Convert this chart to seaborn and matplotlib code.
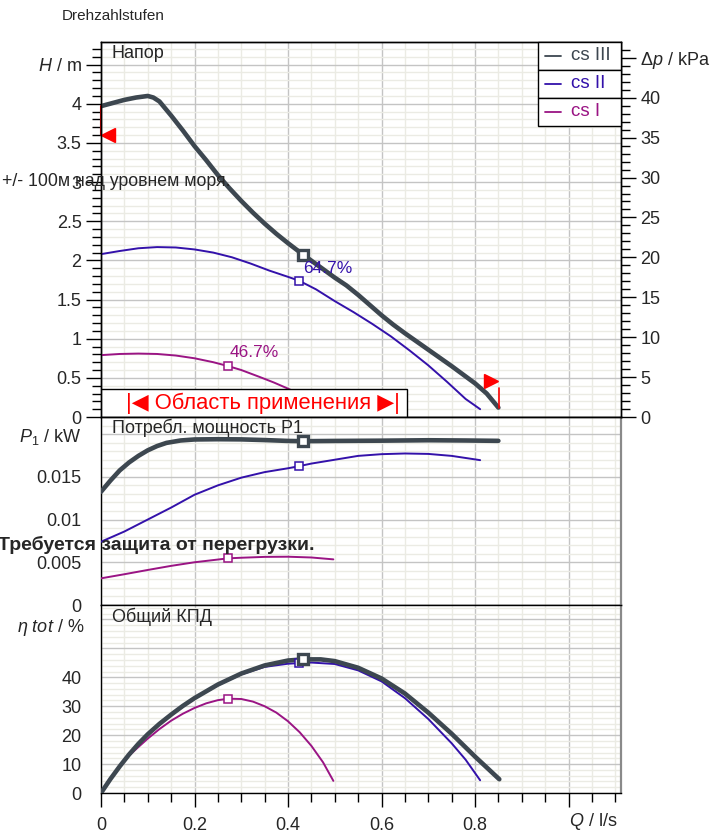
import numpy as np
import pandas as pd
import matplotlib
matplotlib.use("Agg")
import matplotlib.pyplot as plt
import seaborn as sns
from matplotlib.ticker import MultipleLocator, FixedLocator
from matplotlib.patches import Rectangle
from matplotlib.lines import Line2D

# speed stages
stages = ["cs III", "cs II", "cs I"]
stage_colors = ["#3d4750", "#3311aa", "#9a1484"]
stage_widths = [3.3, 1.4, 1.4]

# head H / m over flow Q / l/s
q_head_3 = [0, 0.025, 0.05, 0.075, 0.1, 0.112, 0.125, 0.15, 0.175, 0.2, 0.225, 0.25, 0.275, 0.3,
            0.325, 0.35, 0.375, 0.4, 0.433, 0.47, 0.5, 0.525, 0.55, 0.575, 0.6, 0.625, 0.65, 0.7,
            0.75, 0.8, 0.825, 0.85]
head_3 = [3.97, 4.01, 4.05, 4.08, 4.10, 4.08, 4.03, 3.85, 3.66, 3.46, 3.28, 3.09, 2.92, 2.76,
          2.61, 2.47, 2.34, 2.22, 2.07, 1.91, 1.78, 1.68, 1.56, 1.43, 1.30, 1.18, 1.07, 0.86,
          0.65, 0.43, 0.30, 0.12]
q_head_2 = [0, 0.04, 0.08, 0.12, 0.16, 0.2, 0.24, 0.28, 0.32, 0.36, 0.4, 0.424, 0.46, 0.5, 0.54,
            0.58, 0.62, 0.66, 0.7, 0.74, 0.78, 0.811]
head_2 = [2.08, 2.12, 2.155, 2.17, 2.165, 2.14, 2.10, 2.04, 1.96, 1.87, 1.79, 1.74, 1.63, 1.48, 1.34,
          1.19, 1.03, 0.85, 0.66, 0.45, 0.23, 0.10]
q_head_1 = [0, 0.04, 0.08, 0.12, 0.16, 0.2, 0.24, 0.272, 0.3, 0.34, 0.37, 0.397, 0.43, 0.46, 0.497]
head_1 = [0.79, 0.805, 0.81, 0.805, 0.785, 0.75, 0.70, 0.65, 0.60, 0.51, 0.44, 0.37, 0.28, 0.19, 0.06]

# power P1 / kW
q_pow_3 = [0, 0.02, 0.04, 0.06, 0.08, 0.1, 0.12, 0.14, 0.17, 0.2, 0.25, 0.3, 0.35, 0.4, 0.433,
           0.5, 0.6, 0.7, 0.78, 0.85]
pow_3 = [0.01325, 0.01455, 0.01575, 0.01668, 0.01745, 0.0181, 0.0186, 0.01897, 0.01925, 0.01937,
         0.0194, 0.01938, 0.0193, 0.0192, 0.01917, 0.0192, 0.01923, 0.01928, 0.01925, 0.01921]
q_pow_2 = [0, 0.05, 0.1, 0.15, 0.2, 0.25, 0.3, 0.35, 0.4, 0.424, 0.45, 0.5, 0.55, 0.6, 0.65, 0.7,
           0.75, 0.811]
pow_2 = [0.0074, 0.0086, 0.0100, 0.0114, 0.0129, 0.0140, 0.0149, 0.01555, 0.0160, 0.01625,
         0.01655, 0.0170, 0.01745, 0.01765, 0.01773, 0.01768, 0.01745, 0.01695]
q_pow_1 = [0, 0.05, 0.1, 0.15, 0.2, 0.25, 0.272, 0.3, 0.35, 0.4, 0.45, 0.497]
pow_1 = [0.00312, 0.0036, 0.0041, 0.00458, 0.0050, 0.00532, 0.00546, 0.00553, 0.00563, 0.00565,
         0.00556, 0.00534]

# total efficiency / %
q_eff_3 = [0, 0.02, 0.04, 0.06, 0.08, 0.1, 0.125, 0.15, 0.175, 0.2, 0.25, 0.3, 0.35, 0.4, 0.433,
           0.47, 0.5, 0.55, 0.6, 0.65, 0.7, 0.75, 0.8, 0.852]
eff_3 = [0, 4.8, 9.2, 13.3, 17.0, 20.3, 23.9, 27.1, 30.1, 32.8, 37.5, 41.3, 44.1, 45.8, 46.2,
         46.2, 45.6, 43.3, 39.6, 34.4, 27.8, 20.5, 12.6, 4.75]
q_eff_2 = [0, 0.02, 0.04, 0.06, 0.08, 0.1, 0.125, 0.15, 0.175, 0.2, 0.25, 0.3, 0.35, 0.4, 0.424,
           0.45, 0.5, 0.55, 0.6, 0.65, 0.7, 0.75, 0.78, 0.811]
eff_2 = [0, 4.7, 9.0, 13.1, 16.8, 20.1, 23.7, 26.9, 29.9, 32.6, 37.3, 41.0, 43.6, 44.7, 44.9,
         45.1, 44.6, 42.4, 38.6, 32.8, 25.6, 17.2, 11.5, 4.4]
q_eff_1 = [0, 0.02, 0.04, 0.06, 0.08, 0.1, 0.125, 0.15, 0.175, 0.2, 0.225, 0.25, 0.272, 0.3, 0.325,
           0.35, 0.375, 0.4, 0.425, 0.45, 0.475, 0.497]
eff_1 = [0, 4.7, 9.0, 12.9, 15.9, 18.8, 22.1, 25.0, 27.4, 29.4, 31.0, 32.1, 32.6, 32.5, 31.6,
         30.0, 27.8, 24.8, 21.0, 16.3, 10.6, 4.2]

# duty points (Q, H, P1, eta)
duty_q = [0.433, 0.424, 0.272]
duty_head = [2.07, 1.74, 0.65]
duty_pow = [0.01917, 0.01625, 0.00546]
duty_eff = [46.2, 44.9, 32.6]
duty_text = ["", "64.7%", "46.7%"]

head_curves = [(q_head_3, head_3), (q_head_2, head_2), (q_head_1, head_1)]
pow_curves = [(q_pow_3, pow_3), (q_pow_2, pow_2), (q_pow_1, pow_1)]
eff_curves = [(q_eff_3, eff_3), (q_eff_2, eff_2), (q_eff_1, eff_1)]

sns.set_style("white")
plt.rcParams['font.family'] = ['Liberation Sans', 'DejaVu Sans']
plt.rcParams['mathtext.fontset'] = 'custom'
plt.rcParams['mathtext.rm'] = 'Liberation Sans'
plt.rcParams['mathtext.it'] = 'Liberation Sans:italic'

W, H = 725, 832
XMAX = 520 / 467.5
fig = plt.figure(figsize=(W / 100, H / 100), dpi=100)

ax_h = fig.add_axes([101 / W, 1 - 417 / H, 520 / W, 375 / H])
ax_p = fig.add_axes([101 / W, 1 - 605 / H, 520 / W, 188 / H])
ax_e = fig.add_axes([101 / W, 1 - 793 / H, 520 / W, 188 / H])


def style_axis(ax, ymajor, ylabels, yminor, ymax):
    ax.set_xlim(0, XMAX)
    ax.set_ylim(0, ymax)
    ax.xaxis.set_major_locator(FixedLocator([0, 0.2, 0.4, 0.6, 0.8, 1.0]))
    ax.xaxis.set_minor_locator(MultipleLocator(0.05))
    ax.yaxis.set_major_locator(FixedLocator(ymajor))
    ax.set_yticklabels(ylabels)
    ax.yaxis.set_minor_locator(MultipleLocator(yminor))
    ax.grid(which='major', color='#c4c4c4', lw=1.0)
    ax.grid(which='minor', color='#ebebe4', lw=1.0)
    ax.set_axisbelow(True)
    ax.tick_params(axis='y', which='major', direction='out', length=11, width=1,
                   pad=3, labelsize=13, color='black')
    ax.tick_params(axis='y', which='minor', direction='out', length=6.5, width=1, color='black')
    ax.tick_params(axis='x', which='both', bottom=False, labelbottom=False)
    for s in ax.spines.values():
        s.set_color('black')
        s.set_linewidth(1)


style_axis(ax_h, [0, 0.5, 1, 1.5, 2, 2.5, 3, 3.5, 4, 4.5],
           ["0", "0.5", "1", "1.5", "2", "2.5", "3", "3.5", "4", r"$H$ / m"], 0.1, 375 / 78.3)
style_axis(ax_p, [0, 0.005, 0.01, 0.015, 0.02],
           ["0", "0.005", "0.01", "0.015", r"$P_{1}$ / kW"], 0.001, 0.022)
style_axis(ax_e, [0, 10, 20, 30, 40, 50, 60],
           ["0", "10", "20", "30", "40", "", ""], 2, 65)

for ax in (ax_p, ax_e):
    ax.spines['right'].set_color('#8a8a8a')
    ax.spines['right'].set_linewidth(1.6)

ax_e.set_xticklabels(["0", "0.2", "0.4", "0.6", "0.8", ""])
ax_e.tick_params(axis='x', which='major', bottom=True, labelbottom=True, direction='out',
                 length=10, width=1, pad=7, labelsize=13, color='black')
ax_e.tick_params(axis='x', which='minor', bottom=True, direction='out', length=6.5, width=1, color='black')

# curves
for ax, curves, duty_y in ((ax_h, head_curves, duty_head),
                           (ax_p, pow_curves, duty_pow),
                           (ax_e, eff_curves, duty_eff)):
    for i in [2, 1, 0]:
        qx, vy = curves[i]
        sns.lineplot(x=qx, y=vy, ax=ax, color=stage_colors[i], linewidth=stage_widths[i],
                     sort=False, zorder=3 + (2 - i))
        if i == 0:
            ax.plot(duty_q[i], duty_y[i], 's', ms=6.5, mew=2.4, mfc='white',
                    mec=stage_colors[i], zorder=8)
        else:
            ax.plot(duty_q[i], duty_y[i], 's', ms=6.0, mew=1.1, mfc='white',
                    mec=stage_colors[i], zorder=7)
    ax.set_xlabel("")
    ax.set_ylabel("")

# efficiency labels on head curves
ax_h.text(0.432, 1.90, duty_text[1], color=stage_colors[1], fontsize=12.5, va='center', zorder=9)
ax_h.text(0.276, 0.82, duty_text[2], color=stage_colors[2], fontsize=12.5, va='center', zorder=9)

# right axis delta p / kPa
ax_dp = ax_h.twinx()
ax_dp.set_ylim(0, 375 / 78.3 * 9.81)
ax_dp.yaxis.set_major_locator(FixedLocator([0, 5, 10, 15, 20, 25, 30, 35, 40, 45]))
ax_dp.set_yticklabels(["0", "5", "10", "15", "20", "25", "30", "35", "40", r"$\Delta p$ / kPa"])
ax_dp.yaxis.set_minor_locator(MultipleLocator(1))
ax_dp.tick_params(axis='y', which='major', direction='out', length=11, width=1, pad=3,
                  labelsize=13, color='black')
ax_dp.tick_params(axis='y', which='minor', direction='out', length=6.5, width=1, color='black')
ax_dp.grid(False)
for s in ax_dp.spines.values():
    s.set_color('black')
    s.set_linewidth(1)

# application range markers
red = '#ff0000'
ax_h.plot([0, 0], [3.6, 3.97], color='#b00000', lw=1.5, zorder=6, clip_on=False)
ax_h.plot(0.016, 3.6, '<', color=red, ms=10.5, zorder=9, clip_on=False)
ax_h.plot(0.835, 0.46, '>', color=red, ms=10.5, zorder=9)
ax_h.plot([0.851, 0.851], [0.115, 0.37], color=red, lw=1.2, zorder=9)
ax_h.add_patch(Rectangle((0, 0), 306 / 520, 28 / 375, transform=ax_h.transAxes,
                         facecolor='white', edgecolor='black', lw=1, zorder=10))
ax_h.text(162 / 520, 14 / 375, "|◀ Область применения ▶|", transform=ax_h.transAxes,
          color=red, fontsize=15.8, ha='center', va='center', zorder=11)

# panel titles
ax_h.text(11 / 520, 1 - 11 / 375, "Напор", transform=ax_h.transAxes, fontsize=13,
          va='center', ha='left', zorder=9)
ax_p.text(11 / 520, 1 - 11 / 188, "Потребл. мощность P1", transform=ax_p.transAxes,
          fontsize=13, va='center', ha='left', zorder=9)
ax_e.text(11 / 520, 1 - 12 / 188, "Общий КПД", transform=ax_e.transAxes, fontsize=13,
          va='center', ha='left', zorder=9)

# legend drawn as stacked cells
row_top = [42, 70, 98]
for i, name in enumerate(stages):
    y0 = row_top[i]
    fig.patches.append(Rectangle((538 / W, 1 - (y0 + 28) / H), 83 / W, 28 / H,
                                 transform=fig.transFigure, facecolor='white',
                                 edgecolor='black', lw=1, zorder=20))
    yc = 1 - (y0 + 14) / H
    fig.lines.append(Line2D([545 / W, 561 / W], [yc, yc], transform=fig.transFigure,
                            color=stage_colors[i], lw=1.3, zorder=21))
    fig.text(571 / W, yc, name, color=stage_colors[i], fontsize=13.5, va='center',
             ha='left', zorder=22)

# free text
fig.text(62 / W, 1 - 16 / H, "Drehzahlstufen", fontsize=11, va='center', ha='left')
fig.text(2 / W, 1 - 181 / H, "+/- 100м над уровнем моря.", fontsize=12.8, va='center', ha='left')
fig.text(314 / W, 1 - 545 / H, "Требуется защита от перегрузки.", fontsize=14,
         fontweight='bold', va='center', ha='right')
fig.text(84 / W, 1 - 627 / H, r"$\eta$ $tot$ / %", fontsize=13, va='center', ha='right')
fig.text(617 / W, 1 - 822 / H, r"$Q$ / l/s", fontsize=13, va='center', ha='right')

fig.savefig('out.png', dpi=100)
